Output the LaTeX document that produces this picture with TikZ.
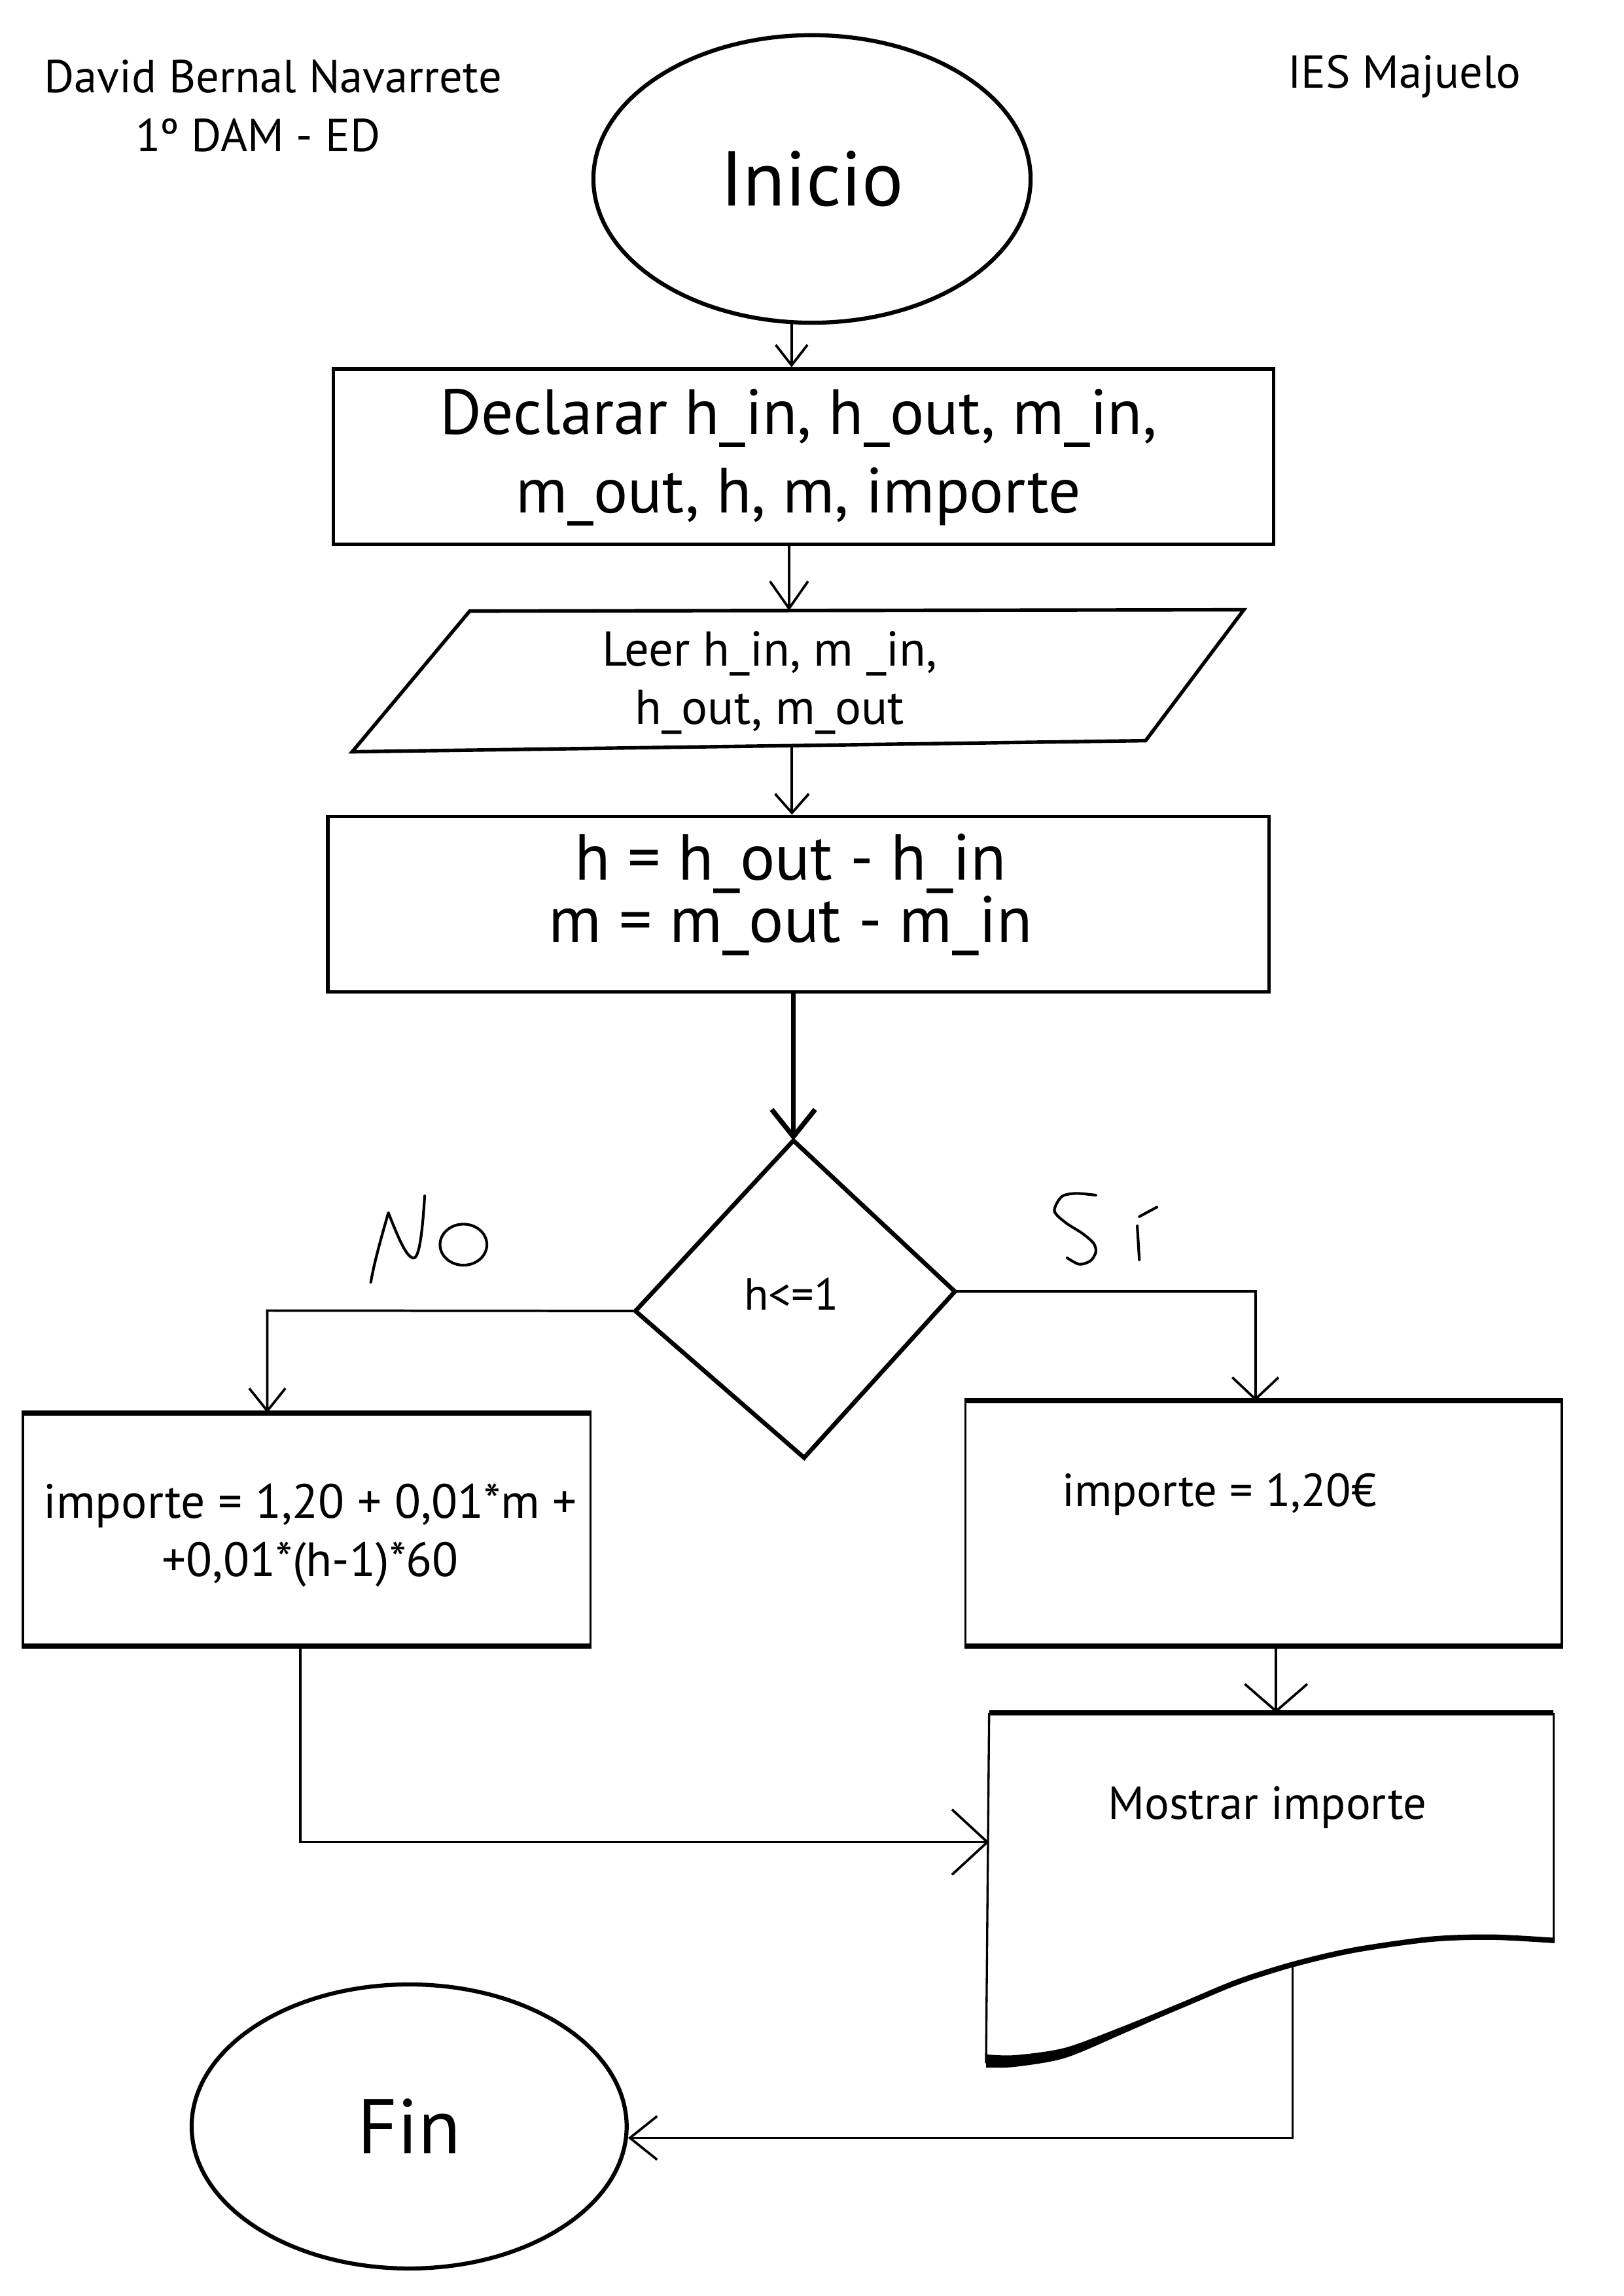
\documentclass[tikz,border=0pt]{standalone}
\usepackage{fontspec}
\setmainfont{PT Sans}
\usetikzlibrary{arrows.meta,fit,shapes.geometric}
\begin{document}
\begin{tikzpicture}[x=0.53875pt,y=-0.53875pt,
  txt/.style={inner sep=0pt, font=\fontsize{17}{21.5}\selectfont},
  big/.style={font=\fontsize{28.5}{34}\selectfont},
  term/.style={ellipse, draw, line width=1.5pt, inner sep=0pt, big},
  box/.style={draw, line width=1.3pt, inner sep=0pt},
  sidebox/.style={draw, line width=0.8pt, inner sep=0pt},
  bar/.style={line width=2pt},
  thinside/.style={line width=0.8pt},
  conn/.style={line width=0.9pt},
  arr/.style 2 args={conn, -{Straight Barb[length=#1,width=#2]}},
  hand/.style={line width=1pt, line cap=round, line join=round},
]
\useasboundingbox (0,0) rectangle (1109,1568);

% header texts
\node[txt, anchor=base] (author) at (186.4,63.1) {David Bernal Navarrete};
\node[txt, anchor=base] (course) at (176.2,103.5) {1º DAM - ED};
\node[txt, anchor=base] (school) at (959.4,59.9) {IES Majuelo};

% Inicio
\node[term, minimum width=160.9pt, minimum height=105.8pt] (inicio) at (554.7,122.2) {Inicio};

% Declarar
\coordinate (d1) at (227.6,252);
\coordinate (d2) at (870.1,371.7);
\node[box, fit=(d1)(d2)] (decl) {};
\node[inner sep=0pt, align=center, font=\fontsize{23.5}{28.9}\selectfont] (decltxt) at (545.4,312.3)
  {Declarar h\_in, h\_out, m\_in,\\m\_out, h, m, importe};

% Leer (parallelogram)
\coordinate (ptl) at (320.9,417.3);
\coordinate (ptr) at (849.7,416.4);
\coordinate (pbr) at (782.6,505.8);
\coordinate (pbl) at (240.6,513.4);
\draw[line width=1.3pt, line join=miter] (ptl) -- (ptr) -- (pbr) -- (pbl) -- cycle;
\node[inner sep=0pt, align=center, font=\fontsize{18}{21.5}\selectfont] (leer) at (525.8,466.4)
  {Leer h\_in, m \_in,\\h\_out, m\_out};
\coordinate (leerin) at (539,417);
\coordinate (leerout) at (541,509.2);

% h / m box
\coordinate (h1) at (224,557.6);
\coordinate (h2) at (867,677.5);
\node[box, fit=(h1)(h2)] (hbox) {};
\node[inner sep=0pt, align=center, font=\fontsize{24}{21}\selectfont] (htxt) at (540,611)
  {h = h\_out - h\_in\\m = m\_out - m\_in};

% decision
\coordinate (dtop) at (542,778.9);
\coordinate (dright) at (652.3,882);
\coordinate (dbot) at (549.3,995.5);
\coordinate (dleft) at (434.1,895.3);
\draw[line width=1.6pt, line join=miter] (dtop) -- (dright) -- (dbot) -- (dleft) -- cycle;
\node[txt, anchor=base, font=\fontsize{16.5}{20}\selectfont] (cond) at (540.6,894.4) {h<=1};

% No box
\coordinate (n1) at (15.6,965.6);
\coordinate (n2) at (403.3,1123.4);
\node[sidebox, fit=(n1)(n2)] (nobox) {};
\draw[bar] (nobox.north west) -- (nobox.north east);
\draw[bar] (nobox.south west) -- (nobox.south east);
\node[txt, align=center, font=\fontsize{17.7}{21.5}\selectfont] (notxt) at (212,1048.6)
  {importe = 1,20 + 0,01*m +\\+0,01*(h-1)*60};

% Si box
\coordinate (s1) at (659.5,957.4);
\coordinate (s2) at (1067,1123.4);
\node[sidebox, fit=(s1)(s2)] (sibox) {};
\draw[bar] (sibox.north west) -- (sibox.north east);
\draw[bar] (sibox.south west) -- (sibox.south east);
\node[txt, anchor=base] (sitxt) at (833,1028.5) {importe = 1,20€};

% document shape
\coordinate (doctl) at (675.7,1169.7);
\coordinate (doctr) at (1061.3,1169.7);
\coordinate (docbr) at (1061.3,1325.2);
\coordinate (docbl) at (673.6,1409);
\draw[thinside] (docbl) -- (doctl);
\draw[thinside] (doctr) -- (docbr);
\draw[bar] (doctl) -- (doctr);
\draw[line width=2pt] plot[smooth] coordinates {(1062,1325.2) (1018.7,1322.9) (976.7,1324.4) (924.3,1331.9) (883,1341.6) (845.5,1353.5) (806.2,1369.9) (766.8,1386.3) (727.4,1401.2) (693.3,1407.1) (673.6,1407.6)};
\fill plot[smooth] coordinates {(673.6,1403) (693.3,1403.5) (727.4,1398.5) (766.8,1384) (806.2,1368)}
  -- plot[smooth] coordinates {(806.2,1371.5) (766.8,1389) (727.4,1405.5) (693.3,1411.5) (673.6,1412)} -- cycle;
\node[txt, anchor=base] (mostrar) at (865.7,1242.2) {Mostrar importe};
\coordinate (docin) at (871.7,1169.7);
\coordinate (docleft) at (675.7,1258);
\coordinate (docout) at (883,1342);

% Fin
\node[term, minimum width=160.1pt, minimum height=104.5pt] (fin) at (279.5,1452.2) {Fin};

% connectors
\coordinate (noelbow) at (182.6,895);
\coordinate (sielbow) at (857.6,882);
\coordinate (noout) at (205.2,1123.4);

\draw[arr={7.5pt}{11.7pt}] (inicio.-98) -- (inicio.-98 |- decl.north);
\draw[arr={10pt}{14pt}] (decl.south -| leerin) -- (leerin);
\draw[arr={7pt}{12.4pt}] (leerout) -- (leerout |- hbox.north);
\draw[arr={10pt}{16pt}, line width=1.8pt] (hbox.south -| dtop) -- (dtop);
\draw[arr={8.3pt}{13.3pt}] (dleft) -- (noelbow) -- (noelbow |- nobox.north);
\draw[arr={8pt}{17pt}] (dright) -- (sielbow) -- (sielbow |- sibox.north);
\draw[arr={10pt}{23pt}] (sibox.south -| docin) -- (docin);
\draw[arr={13pt}{24pt}] (nobox.south -| noout) |- (docleft);
\draw[arr={10pt}{16pt}] (docout) |- (fin.-3.6);

% handwritten labels
\draw[hand] (253.3,875.7) .. controls (256,860) and (262,840) .. (265.3,828.2)
  .. controls (272,845) and (278,860) .. (283,859)
  .. controls (287,858) and (289,835) .. (290.1,816.7);
\draw[hand] (316.6,850) ellipse [x radius=16, y radius=14];
\draw[hand] plot[smooth] coordinates {(748.6,816.2) (735,815) (725.3,817.2) (720.3,827) (728,835) (739.4,842.3) (747,849) (748.6,855) (745,861) (737.3,863.4) (729,859)};
\draw[hand] (776.9,837.2) -- (778.3,860.3);
\draw[hand] (778.3,830.8) -- (790.3,824.4);
\end{tikzpicture}
\end{document}
